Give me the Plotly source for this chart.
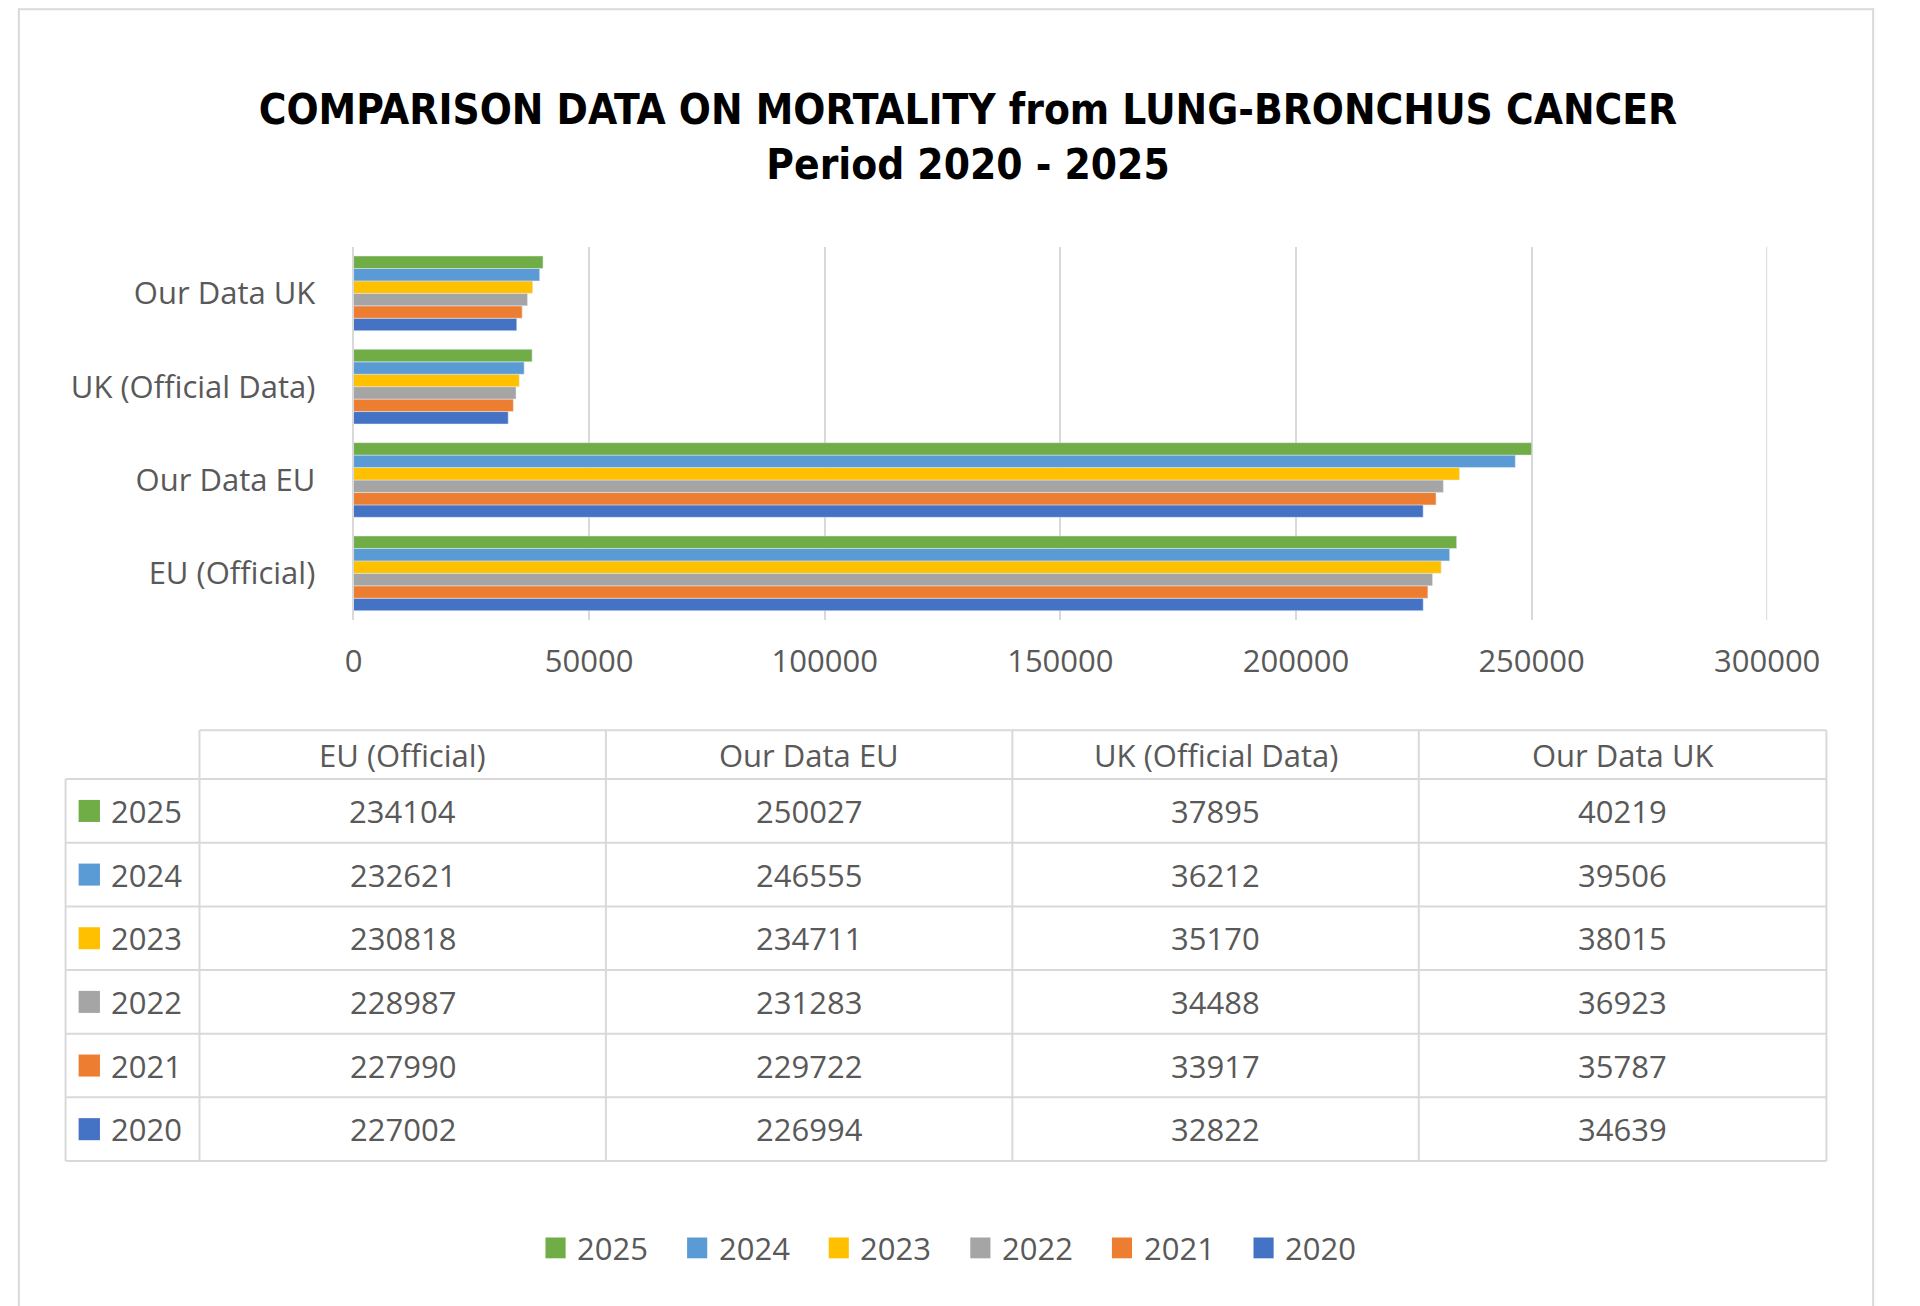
import plotly.graph_objects as go

categories = ["EU (Official)", "Our Data EU", "UK (Official Data)", "Our Data UK"]
years = ["2020", "2021", "2022", "2023", "2024", "2025"]
values = {
    "2020": [227002, 226994, 32822, 34639],
    "2021": [227990, 229722, 33917, 35787],
    "2022": [228987, 231283, 34488, 36923],
    "2023": [230818, 234711, 35170, 38015],
    "2024": [232621, 246555, 36212, 39506],
    "2025": [234104, 250027, 37895, 40219],
}
colors = {"2020": "#4472C4", "2021": "#ED7D31", "2022": "#A5A5A5",
          "2023": "#FFC000", "2024": "#5B9BD5", "2025": "#70AD47"}
x_ticks = [0, 50000, 100000, 150000, 200000, 250000, 300000]

W, H = 1568.0, 1067.0
def px(x): return x / W
def py(y): return 1 - y / H

FONT = "Open Sans"
TXT = "#595959"
fig = go.Figure()
for yr in years:
    fig.add_trace(go.Bar(y=categories, x=values[yr], orientation="h", name=yr,
                         marker_color=colors[yr], showlegend=False))

fig.update_layout(
    width=1920, height=1306, paper_bgcolor="white", plot_bgcolor="white",
    margin=dict(l=0, r=0, t=0, b=0), barmode="group", bargap=0.2, bargroupgap=0,
    title=dict(text="<b>COMPARISON DATA ON MORTALITY from LUNG-BRONCHUS CANCER<br>Period 2020 - 2025</b>",
               x=0.5, xanchor="center", y=py(95), yanchor="middle",
               font=dict(family="DejaVu Sans Condensed", size=42, color="black")),
    xaxis=dict(domain=[px(284), px(1477)], range=[0, 300000], tickvals=x_ticks,
               ticktext=[str(v) for v in x_ticks], showgrid=True, gridcolor="#D9D9D9",
               gridwidth=2, zeroline=False, showline=False, ticklen=0,
               tickfont=dict(family=FONT, size=31, color=TXT), ticklabelstandoff=20),
    yaxis=dict(domain=[py(500), py(195)], showgrid=False, showline=True, linecolor="#D9D9D9",
               linewidth=2, ticks="", tickfont=dict(family=FONT, size=31, color=TXT),
               ticklabelstandoff=30),
    showlegend=False,
)

shapes = []
ann = []
grid = "#D9D9D9"
# gridline at the right edge (300000)
shapes.append(dict(type="line", xref="x", yref="paper", x0=x_ticks[-1], x1=x_ticks[-1],
                   y0=py(500), y1=py(195), line=dict(color=grid, width=2)))
colx = [41, 154, 497, 840, 1183, 1527]
rowy = [590, 630, 682, 734, 786, 838, 890, 942]
def line(x0, y0, x1, y1):
    shapes.append(dict(type="line", xref="paper", yref="paper", x0=px(x0), y0=py(y0),
                       x1=px(x1), y1=py(y1), line=dict(color=grid, width=2)))
line(154, rowy[0], 1527, rowy[0])
for y in rowy[1:]:
    line(41, y, 1527, y)
line(41, rowy[1], 41, rowy[-1])
for x in colx[1:]:
    line(x, rowy[0], x, rowy[-1])
for i, c in enumerate(categories):
    ann.append(dict(x=px((colx[i+1]+colx[i+2])/2), y=py((rowy[0]+rowy[1])/2), text=c))
for r, yr in enumerate(reversed(years)):
    yc = (rowy[r+1] + rowy[r+2]) / 2
    shapes.append(dict(type="rect", xref="paper", yref="paper", x0=px(52), x1=px(70),
                       y0=py(yc+9), y1=py(yc-9), fillcolor=colors[yr], line=dict(width=0)))
    ann.append(dict(x=px(78), y=py(yc), text=yr, xanchor="left"))
    for i, v in enumerate(values[yr]):
        ann.append(dict(x=px((colx[i+1]+colx[i+2])/2), y=py(yc), text=str(v)))
# custom legend
lx = 446
for yr in reversed(years):
    shapes.append(dict(type="rect", xref="paper", yref="paper", x0=px(lx), x1=px(lx+17),
                       y0=py(1013+8.5), y1=py(1013-8.5), fillcolor=colors[yr], line=dict(width=0)))
    ann.append(dict(x=px(lx+25), y=py(1013), text=yr, xanchor="left"))
    lx += 119.5
for a in ann:
    a.setdefault("xanchor", "center")
    a.update(xref="paper", yref="paper", yanchor="middle", showarrow=False,
             font=dict(family=FONT, size=31, color=TXT))
shapes.append(dict(type="rect", xref="paper", yref="paper", x0=0.001, y0=0.001, x1=0.999, y1=0.999,
                   line=dict(color="#D9D9D9", width=2)))
fig.update_layout(shapes=shapes, annotations=ann)
fig.write_html("out.html")
